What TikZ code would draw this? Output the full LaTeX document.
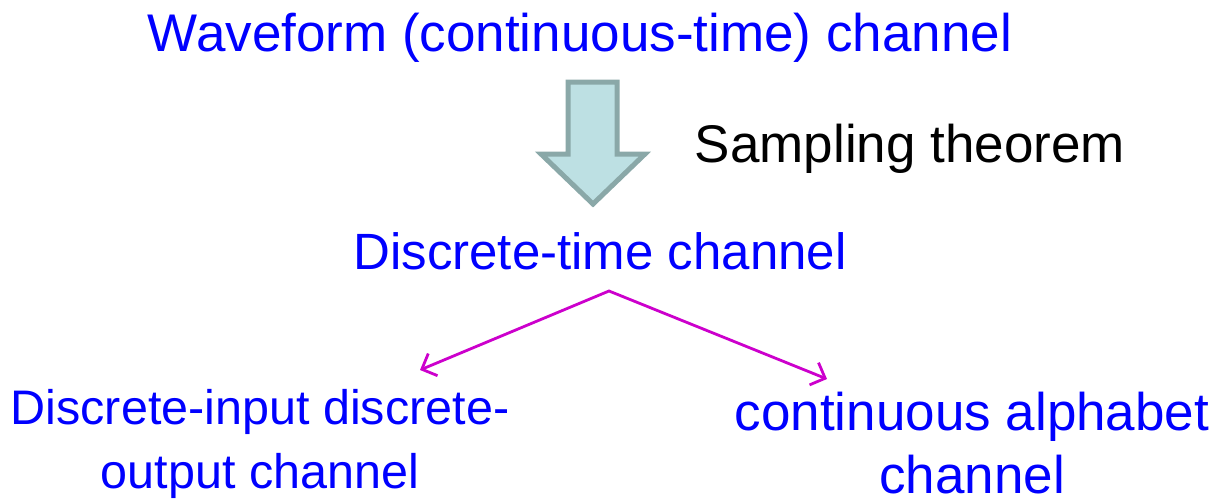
\documentclass[tikz,border=0pt]{standalone}
\usepackage{fontspec}
\setmainfont{Liberation Sans}
\usetikzlibrary{arrows.meta,positioning}
\definecolor{txtblue}{RGB}{0,0,255}
\definecolor{branchpink}{RGB}{204,0,204}
\definecolor{arrowfill}{RGB}{189,224,227}
\definecolor{arrowedge}{RGB}{138,168,168}

\begin{document}
\begin{tikzpicture}[x=1pt,y=-1pt,
    every node/.style={inner sep=0pt,font=\fontsize{53}{64}\selectfont},
    chan/.style={text=txtblue,anchor=base},
    branch/.style={draw=branchpink,line width=2.8pt,line join=miter,
      {Straight Barb[length=12pt,width=24pt]}-{Straight Barb[length=12pt,width=24pt]}},
    bigarrow/.style={fill=arrowfill,draw=arrowedge,line width=5pt,line join=miter}]
    \useasboundingbox (0,0) rectangle (1218,498);
    \node[chan] (wave) at (580,51) {Waveform (continuous-time) channel};
    \node[anchor=base] (samp) at (910,162) {Sampling theorem};
    \node[chan,font=\fontsize{51}{61}\selectfont] (dtc) at (600,269) {Discrete-time channel};
    \node[chan,align=center,font=\fontsize{48.5}{64}\selectfont] (dido) at (260,488)
      {Discrete-input discrete-\\output channel};
    \node[chan,align=center,font=\fontsize{53}{63}\selectfont] (cont) at (972,493)
      {continuous alphabet\\channel};
    % sampling step
    \draw[bigarrow] (568,82) -- (617,82) -- (617,154) -- (645,154) -- (593,204)
      -- (541,154) -- (568,154) -- cycle;
    % split into the two channel models
    \coordinate (split) at (609,291);
    \coordinate (dido in) at (420,370);
    \coordinate (cont in) at (827,379);
    \draw[branch] (dido in) -- (split) -- (cont in);
\end{tikzpicture}
\end{document}
